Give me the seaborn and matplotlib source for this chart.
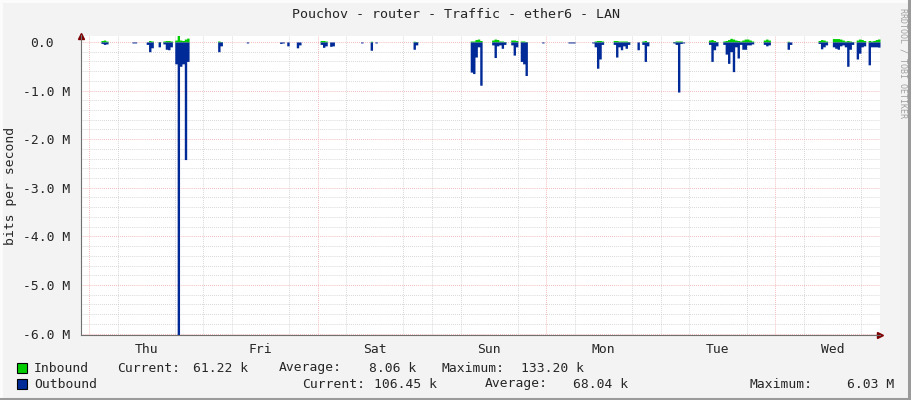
import numpy as np
import pandas as pd
import matplotlib
matplotlib.use("Agg")
import matplotlib.pyplot as plt
import seaborn as sns
from matplotlib.lines import Line2D
from matplotlib.patches import Rectangle
from matplotlib.ticker import FixedLocator
from matplotlib.transforms import ScaledTranslation

# 30 minute samples, sample 0 = Thursday 00:00
burst_start = [5, 18, 24, 29, 31, 36, 54, 66, 80, 83, 87, 97, 101, 114, 118, 120, 136,
               160, 169, 177, 181, 190, 201, 211, 220, 230, 232, 245, 249, 260, 266,
               274, 283, 293, 306, 312, 318, 322, 327]

# outbound traffic in Mbit/s
outbound_m = [
    [0.03, 0.05, 0.04],
    [0.02, 0.02],
    [0.05, 0.20, 0.12],
    [0.10],
    [0.04, 0.15, 0.16, 0.10],
    [0.45, 6.03, 0.50, 0.45, 2.42, 0.40],
    [0.20, 0.08],
    [0.02],
    [0.03, 0.02],
    [0.08],
    [0.12, 0.06],
    [0.05, 0.11, 0.08],
    [0.09, 0.08],
    [0.02],
    [0.17],
    [0.02],
    [0.15, 0.06],
    [0.62, 0.65, 0.31, 0.10, 0.89],
    [0.06, 0.32, 0.08, 0.06, 0.13, 0.05],
    [0.06, 0.27, 0.10],
    [0.40, 0.45, 0.69],
    [0.02],
    [0.02, 0.02, 0.02],
    [0.02, 0.10, 0.54, 0.35, 0.05],
    [0.05, 0.31, 0.10, 0.16, 0.08, 0.13, 0.05],
    [0.16],
    [0.05, 0.40, 0.08],
    [0.02, 0.05, 1.03, 0.03],
    [0.02],
    [0.05, 0.40, 0.16, 0.08],
    [0.05, 0.25, 0.44, 0.20, 0.61, 0.10, 0.33, 0.05],
    [0.15, 0.15, 0.06, 0.06, 0.04],
    [0.05, 0.08, 0.06],
    [0.15, 0.05],
    [0.03, 0.14, 0.10, 0.06],
    [0.10, 0.13, 0.15, 0.08, 0.06, 0.10],
    [0.50, 0.15, 0.05],
    [0.35, 0.23, 0.10, 0.08],
    [0.47, 0.10, 0.10, 0.10, 0.106],
]

# inbound traffic in kbit/s
inbound_k = [
    [30, 40, 20],
    [0, 0],
    [0, 30, 20],
    [10],
    [20, 30, 30, 20],
    [40, 133.2, 40, 30, 60, 80],
    [20, 10],
    [0],
    [0, 0],
    [0],
    [0, 0],
    [30, 30, 20],
    [0, 0],
    [0],
    [15],
    [0],
    [15, 10],
    [20, 20, 50, 60, 30],
    [40, 60, 50, 20, 20, 10],
    [40, 40, 30],
    [20, 20, 10],
    [0],
    [0, 0, 0],
    [0, 20, 30, 30, 20],
    [30, 30, 20, 20, 20, 20, 10],
    [0],
    [20, 30, 10],
    [10, 20, 20, 20],
    [0],
    [40, 50, 30, 10],
    [20, 30, 50, 75, 60, 40, 30, 20],
    [40, 60, 60, 40, 20],
    [40, 60, 40],
    [15, 0],
    [30, 50, 40, 20],
    [70, 70, 70, 60, 40, 20],
    [30, 20, 10],
    [40, 60, 50, 30],
    [30, 20, 30, 50, 61.22],
]

day_names = ["Thu", "Fri", "Sat", "Sun", "Mon", "Tue", "Wed"]
y_ticks_m = [0, -1, -2, -3, -4, -5, -6]

inbound_stats = ["61.22 k", "8.06 k", "133.20 k"]
outbound_stats = ["106.45 k", "68.04 k", "6.03 M"]

# build the series
idx = np.arange(-4, 333)
out_vals = np.zeros(len(idx))
in_vals = np.zeros(len(idx))
for s, o, i in zip(burst_start, outbound_m, inbound_k):
    pos = s - idx[0]
    out_vals[pos:pos + len(o)] = o
    in_vals[pos:pos + len(i)] = i

df = pd.DataFrame({
    "hours": idx * 0.5,
    "inbound": in_vals * 1e3,
    "outbound": -out_vals * 1e6,
})

sns.set_style("white")
plt.rcParams["font.family"] = ["DejaVu Sans Mono"]
plt.rcParams["font.size"] = 9.4

fig = plt.figure(figsize=(9.11, 4.0), dpi=100, facecolor="#F3F3F3")
ax = fig.add_axes([81 / 911, 1 - 335 / 400, (880 - 81) / 911, (335 - 35.5) / 400])
ax.set_facecolor("white")

ax.fill_between(df["hours"], 0, df["inbound"], step="post", color="#00CC00", lw=0)
ax.fill_between(df["hours"], 0, df["outbound"], step="post", color="#002A97", lw=0)

ax.set_xlim(-1.68, 166.0)
ax.set_ylim(-6.03e6, 0.1332e6)

# grid
minor_dot = (0, (0.7, 1.4))
ax.set_yticks([v * 1e6 for v in y_ticks_m])
ylabels = ["0.0"] + ["%.1f M" % v for v in y_ticks_m[1:]]
ax.set_yticklabels(ylabels)
ax.yaxis.set_minor_locator(FixedLocator([-k * 0.2e6 for k in range(31) if k % 5 != 0]))
ax.grid(axis="y", which="minor", color="#C8C8C8", linestyle=minor_dot, lw=0.7)
ax.grid(axis="y", which="major", color="#F2A0A0", linestyle=minor_dot, lw=0.7)

ax.set_xticks([12 + 24 * k for k in range(7)])
ax.set_xticklabels(day_names)
ax.xaxis.set_minor_locator(FixedLocator([6 * k for k in range(28) if k % 8 != 0]))
ax.grid(axis="x", which="minor", color="#C8C8C8", linestyle=minor_dot, lw=0.7)
for h in [0, 48, 96, 144]:
    ax.axvline(h, color="#F2A0A0", linestyle=minor_dot, lw=0.7, zorder=0.5)
ax.set_axisbelow(True)

ax.tick_params(axis="y", which="major", length=3, width=0.8, color="#707070", pad=5)
ax.tick_params(axis="y", which="minor", length=2, width=0.8, color="#707070")
ax.tick_params(axis="x", which="major", length=0, pad=6)
ax.tick_params(axis="x", which="minor", length=2, width=0.8, color="#707070")

# "0.0" aligned with the decimals of the other labels
lab0 = ax.get_yticklabels()[0]
lab0.set_transform(lab0.get_transform() + ScaledTranslation(-0.16, 0, fig.dpi_scale_trans))

for side in ["top", "right"]:
    ax.spines[side].set_visible(False)
for side in ["left", "bottom"]:
    ax.spines[side].set_color("#707070")
    ax.spines[side].set_linewidth(0.8)

ax.plot([0], [1.0], marker="^", color="#7F0000", markersize=5, transform=ax.transAxes,
        clip_on=False)
ax.plot([1.0], [0], marker=">", color="#7F0000", markersize=5, transform=ax.transAxes,
        clip_on=False)

fig.text(10.5 / 911, 1 - 186 / 400, "bits per second", rotation=90,
         ha="center", va="center")

fig.text(455.5 / 911, 1 - 15 / 400, "Pouchov - router - Traffic - ether6 - LAN",
         ha="center", va="center", fontsize=9.6)
fig.text(903 / 911, 1 - 8 / 400, "RRDTOOL / TOBI OETIKER", rotation=270,
         ha="center", va="top", fontsize=6, color="#A0A0A0")

# legend
def px(x, y):
    return x / 911, 1 - y / 400

for ycen, colr in [(368, "#00CC00"), (384, "#002A97")]:
    fig.patches.append(Rectangle(px(17, ycen + 5), 10 / 911, 10 / 400, facecolor=colr,
                                 edgecolor="black", lw=0.8, transform=fig.transFigure))

fig.text(*px(34, 368), "Inbound", va="center")
fig.text(*px(117, 368), "Current:", va="center")
fig.text(*px(248, 368), inbound_stats[0], va="center", ha="right")
fig.text(*px(279, 368), "Average:", va="center")
fig.text(*px(416, 368), inbound_stats[1], va="center", ha="right")
fig.text(*px(441, 368), "Maximum:", va="center")
fig.text(*px(584, 368), inbound_stats[2], va="center", ha="right")

fig.text(*px(34, 384), "Outbound", va="center")
fig.text(*px(302, 384), "Current:", va="center")
fig.text(*px(437, 384), outbound_stats[0], va="center", ha="right")
fig.text(*px(485, 384), "Average:", va="center")
fig.text(*px(628, 384), outbound_stats[1], va="center", ha="right")
fig.text(*px(750, 384), "Maximum:", va="center")
fig.text(*px(894, 384), outbound_stats[2], va="center", ha="right")

# 3d frame
fig.add_artist(Line2D([0, 1], [0.998, 0.998], color="#FCFCFC", lw=2, transform=fig.transFigure))
fig.add_artist(Line2D([0.001, 0.001], [0, 1], color="#FCFCFC", lw=2, transform=fig.transFigure))
fig.add_artist(Line2D([0, 1], [0.003, 0.003], color="#9A9A9A", lw=2.2, transform=fig.transFigure))
fig.add_artist(Line2D([0.9975, 0.9975], [0, 1], color="#9A9A9A", lw=2.2, transform=fig.transFigure))

fig.savefig("out.png", dpi=100, facecolor=fig.get_facecolor())
